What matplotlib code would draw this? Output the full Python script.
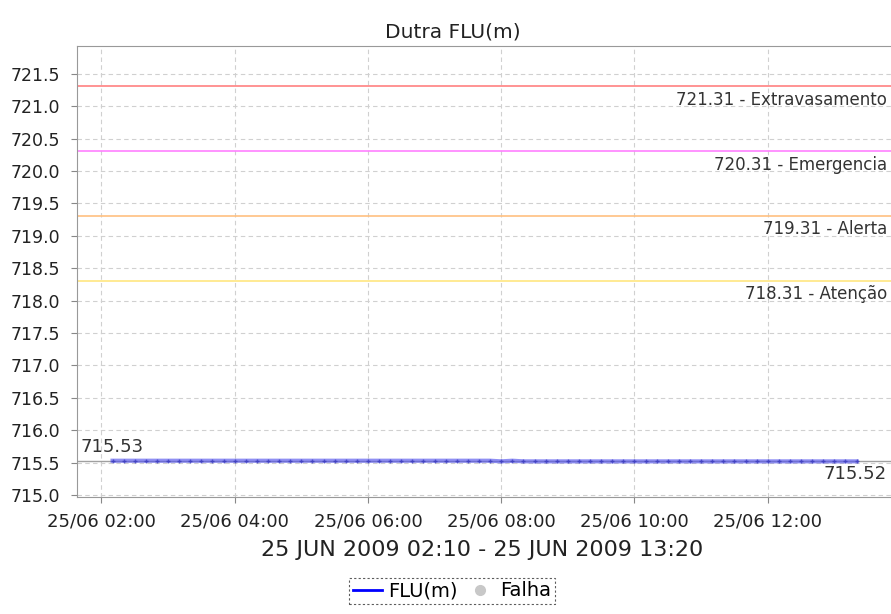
import matplotlib
matplotlib.use("Agg")
import matplotlib.pyplot as plt
from matplotlib.lines import Line2D
import pandas as pd

title = "Dutra FLU(m)"
start_time = "2009-06-25 02:10"
end_time = "2009-06-25 13:20"
flu_values = [
    715.53, 715.53, 715.53, 715.53, 715.53, 715.53, 715.53, 715.53, 715.53, 715.53,
    715.53, 715.53, 715.53, 715.53, 715.53, 715.53, 715.53, 715.53, 715.53, 715.53,
    715.53, 715.53, 715.53, 715.53, 715.53, 715.53, 715.53, 715.53, 715.53, 715.53,
    715.53, 715.53, 715.53, 715.53, 715.53, 715.52, 715.53, 715.52, 715.52, 715.52,
    715.52, 715.52, 715.52, 715.52, 715.52, 715.52, 715.52, 715.52, 715.52, 715.52,
    715.52, 715.52, 715.52, 715.52, 715.52, 715.52, 715.52, 715.52, 715.52, 715.52,
    715.52, 715.52, 715.52, 715.52, 715.52, 715.52, 715.52, 715.52,
]
threshold_values = [721.31, 720.31, 719.31, 718.31]
threshold_names = ["Extravasamento", "Emergencia", "Alerta", "Atenção"]
threshold_colors = ["#ff8080", "#ff80ff", "#ffc080", "#ffe680"]
yticks = [715.0, 715.5, 716.0, 716.5, 717.0, 717.5, 718.0, 718.5, 719.0, 719.5,
          720.0, 720.5, 721.0, 721.5]
xtick_times = ["2009-06-25 02:00", "2009-06-25 04:00", "2009-06-25 06:00",
               "2009-06-25 08:00", "2009-06-25 10:00", "2009-06-25 12:00"]
xlabel = "25 JUN 2009 02:10 - 25 JUN 2009 13:20"

times = pd.date_range(start_time, end_time, freq="10min")

fig = plt.figure(figsize=(8.91, 6.14), dpi=100)
ax = fig.add_axes([77 / 891, 1 - 497 / 614, 1 - 77 / 891, (497 - 46) / 614])

ax.set_ylim(714.97, 721.93)
ax.set_xlim(pd.Timestamp("2009-06-25 01:38"), pd.Timestamp("2009-06-25 13:51"))

ax.grid(True, color="#d0d0d0", linestyle=(0, (4, 3)), linewidth=0.8)
ax.set_axisbelow(True)

# reference (gray) line at current level
ax.axhline(flu_values[0] - 0.005, color="#a0a0a0", linewidth=1.0, zorder=2)

for v, name, c in zip(threshold_values, threshold_names, threshold_colors):
    ax.axhline(v, color=c, linewidth=1.2, zorder=2)
    ax.text(0.995, v - 0.07, f"{v:.2f} - {name}", transform=ax.get_yaxis_transform(),
            ha="right", va="top", fontsize=12, color="#333333")

ax.plot(times, flu_values, color="#5555ee", alpha=0.65, linewidth=3, zorder=3)
ax.plot(times, flu_values, linestyle="none", marker="+", markersize=3,
        color="#3333bb", alpha=0.7, zorder=4)

ax.text(0.004, flu_values[0] + 0.07, f"{flu_values[0]:.2f}", transform=ax.get_yaxis_transform(),
        ha="left", va="bottom", fontsize=13, color="#333333")
ax.text(0.995, flu_values[-1] - 0.06, f"{flu_values[-1]:.2f}", transform=ax.get_yaxis_transform(),
        ha="right", va="top", fontsize=13, color="#333333")

ax.set_yticks(yticks)
ax.set_yticklabels([f"{t:.1f}" for t in yticks])
xt = [pd.Timestamp(t) for t in xtick_times]
ax.set_xticks(xt)
ax.set_xticklabels([t.strftime("%d/%m %H:%M") for t in xt])

ax.tick_params(axis="both", colors="#888888", labelcolor="#222222",
               length=4, direction="out")
ax.tick_params(axis="y", pad=8, labelsize=12.5)
ax.tick_params(axis="x", pad=7, labelsize=13)
for s in ["top", "left", "bottom"]:
    ax.spines[s].set_color("#999999")
ax.spines["right"].set_visible(False)

fig.text(453 / 891, 1 - 32 / 614, title, fontsize=14.5, color="#222222", ha="center", va="center")
fig.text(482 / 891, 1 - 550 / 614, xlabel, fontsize=16, color="#222222", ha="center", va="center")

handles = [
    Line2D([0], [0], color="#0000ff", linewidth=2),
    Line2D([0], [0], linestyle="none", marker="o", markersize=7, color="#c8c8c8"),
]
leg = fig.legend(handles, ["FLU(m)", "Falha"], loc="center", bbox_to_anchor=(452 / 891, 1 - 591 / 614),
                 ncol=2, fontsize=14, frameon=True, fancybox=False, handlelength=1.5,
                 handletextpad=0.3, columnspacing=0.4, borderpad=0.2, borderaxespad=0)
leg.get_frame().set_edgecolor("#333333")
leg.get_frame().set_linestyle((0, (2, 2)))
leg.get_frame().set_linewidth(0.8)

fig.savefig("out.png", dpi=100)
